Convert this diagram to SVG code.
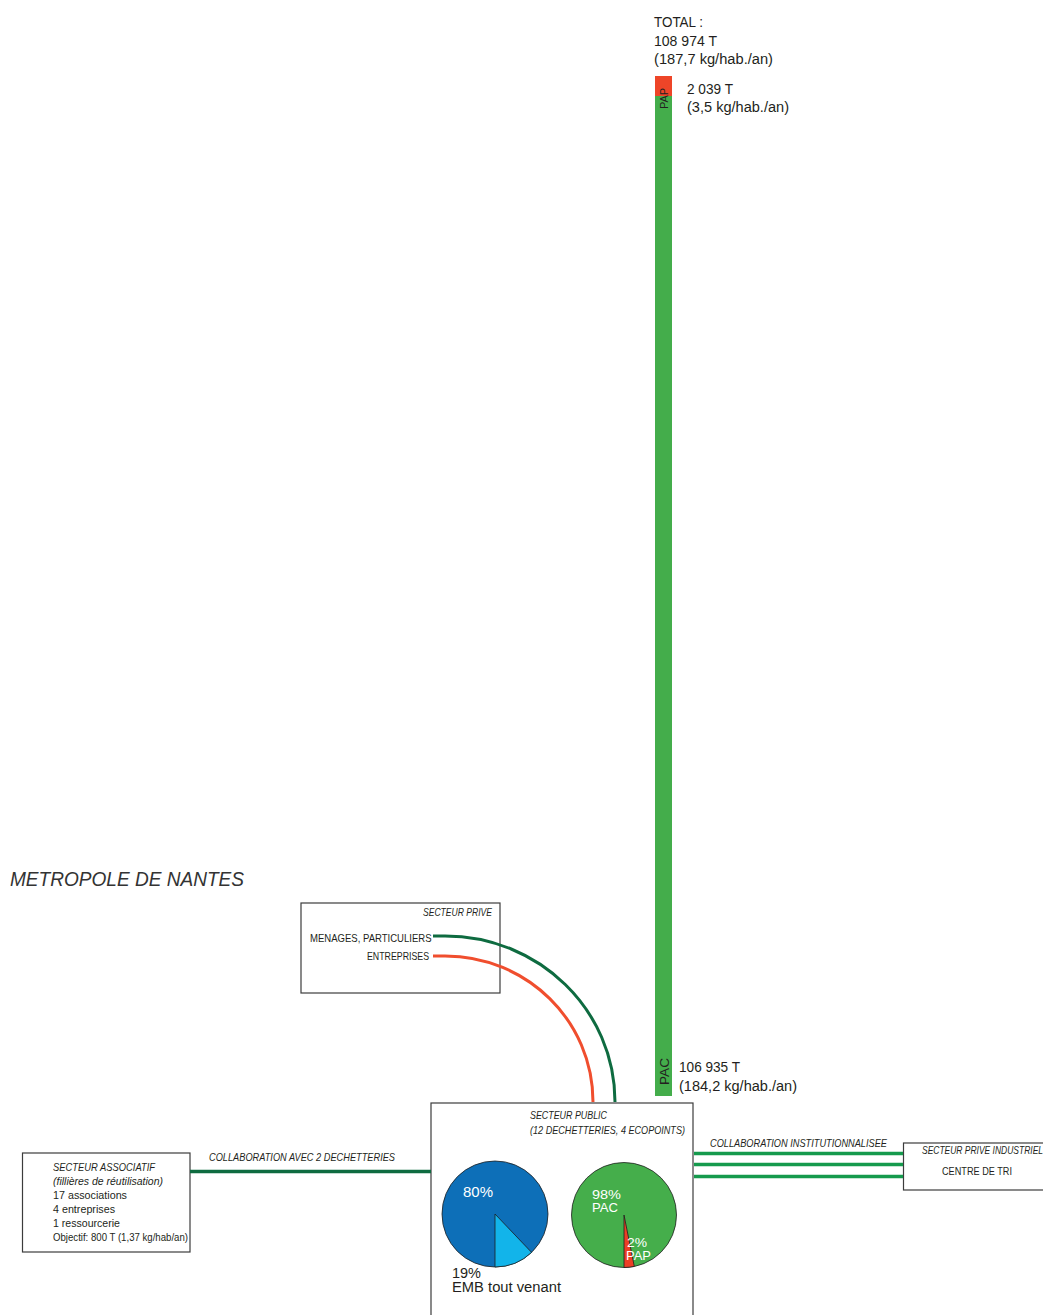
<svg xmlns="http://www.w3.org/2000/svg" width="1043" height="1315" viewBox="0 0 1043 1315">
  <style>
    text { font-family: "Liberation Sans", Arial, sans-serif; fill: #231f20; }
    .big { font-size: 14px; }
    .small { font-size: 10.5px; }
    .it { font-style: italic; }
    .white { fill: #ffffff; }
    .box { fill: #ffffff; stroke: #3c3c3c; stroke-width: 1.2; }
    .pie-edge { stroke: #1e1e1e; stroke-width: 0.8; }
  </style>

  <rect width="1043" height="1315" fill="#ffffff"/>

  <!-- tonnage bar -->
  <g id="bar">
    <rect x="655" y="76" width="17" height="20" fill="#ee4528"/>
    <rect x="655" y="96" width="17" height="1000" fill="#44ad4b"/>
    <text class="big" x="654" y="27" textLength="49" lengthAdjust="spacingAndGlyphs">TOTAL :</text>
    <text class="big" x="654" y="46" textLength="63" lengthAdjust="spacingAndGlyphs">108 974 T</text>
    <text class="big" x="654" y="64" textLength="119" lengthAdjust="spacingAndGlyphs">(187,7 kg/hab./an)</text>
    <text class="big" x="687" y="94" textLength="46" lengthAdjust="spacingAndGlyphs">2 039 T</text>
    <text class="big" x="687" y="112" textLength="102" lengthAdjust="spacingAndGlyphs">(3,5 kg/hab./an)</text>
    <text x="0" y="0" font-size="11.5" text-anchor="middle" transform="translate(667.5,98.5) rotate(-90)" textLength="21" lengthAdjust="spacingAndGlyphs">PAP</text>
    <text x="0" y="0" font-size="13.5" text-anchor="middle" transform="translate(668.5,1071.5) rotate(-90)" textLength="27" lengthAdjust="spacingAndGlyphs">PAC</text>
    <text class="big" x="679" y="1072" textLength="61" lengthAdjust="spacingAndGlyphs">106 935 T</text>
    <text class="big" x="679" y="1091" textLength="118" lengthAdjust="spacingAndGlyphs">(184,2 kg/hab./an)</text>
  </g>

  <text id="title" x="10" y="886" font-size="20" font-style="italic" style="fill:#333333" textLength="234" lengthAdjust="spacingAndGlyphs">METROPOLE DE NANTES</text>

  <!-- private sector -->
  <g id="secteur-prive">
    <rect class="box" x="301" y="903" width="199" height="90"/>
    <text class="small it" x="423" y="915.5" textLength="69" lengthAdjust="spacingAndGlyphs">SECTEUR PRIVE</text>
    <text class="small" x="310" y="941.5" textLength="121.5" lengthAdjust="spacingAndGlyphs">MENAGES, PARTICULIERS</text>
    <text class="small" x="367" y="960" textLength="62" lengthAdjust="spacingAndGlyphs">ENTREPRISES</text>
  </g>

  <!-- public sector -->
  <g id="secteur-public">
    <rect class="box" x="431" y="1103" width="262" height="230"/>
    <text class="small it" x="530" y="1119" textLength="77" lengthAdjust="spacingAndGlyphs">SECTEUR PUBLIC</text>
    <text class="small it" x="530" y="1133.5" textLength="155" lengthAdjust="spacingAndGlyphs">(12 DECHETTERIES, 4 ECOPOINTS)</text>

    <g id="pie-emb">
      <circle cx="495" cy="1214" r="53" fill="#0d6fb8" class="pie-edge"/>
      <path d="M495,1214 L531.6,1252.4 A53,53 0 0 1 495,1267 Z" fill="#12b4ea" class="pie-edge"/>
      <text class="big white" x="463" y="1197" font-size="15" textLength="30" lengthAdjust="spacingAndGlyphs">80%</text>
      <text class="big" x="452" y="1278" textLength="29" lengthAdjust="spacingAndGlyphs">19%</text>
      <text class="big" x="452" y="1292" textLength="109" lengthAdjust="spacingAndGlyphs">EMB tout venant</text>
    </g>

    <g id="pie-pac">
      <circle cx="624" cy="1215" r="52.5" fill="#45ae4b" class="pie-edge"/>
      <path d="M624,1215 L634.3,1266.4 A52.5,52.5 0 0 1 624,1267.5 Z" fill="#ec3f25" class="pie-edge"/>
      <text class="white" x="592" y="1198.5" font-size="13" textLength="29" lengthAdjust="spacingAndGlyphs">98%</text>
      <text class="white" x="592" y="1212" font-size="13" textLength="26" lengthAdjust="spacingAndGlyphs">PAC</text>
      <text class="white" x="627" y="1246.5" font-size="13" textLength="20" lengthAdjust="spacingAndGlyphs">2%</text>
      <text class="white" x="626" y="1259.5" font-size="13" textLength="25" lengthAdjust="spacingAndGlyphs">PAP</text>
    </g>
  </g>

  <!-- associative sector -->
  <g id="secteur-associatif">
    <rect class="box" x="22.5" y="1153" width="167.5" height="99"/>
    <text class="small it" x="53" y="1171" textLength="102" lengthAdjust="spacingAndGlyphs">SECTEUR ASSOCIATIF</text>
    <text class="small it" x="53" y="1185" textLength="110" lengthAdjust="spacingAndGlyphs">(fillières de réutilisation)</text>
    <text class="small" x="53" y="1199" textLength="74" lengthAdjust="spacingAndGlyphs">17 associations</text>
    <text class="small" x="53" y="1213" textLength="62" lengthAdjust="spacingAndGlyphs">4 entreprises</text>
    <text class="small" x="53" y="1227" textLength="67" lengthAdjust="spacingAndGlyphs">1 ressourcerie</text>
    <text class="small" x="53" y="1241" textLength="135" lengthAdjust="spacingAndGlyphs">Objectif: 800 T (1,37 kg/hab/an)</text>
  </g>

  <!-- industrial private sector -->
  <g id="secteur-prive-industriel">
    <rect class="box" x="903.5" y="1143" width="160" height="47"/>
    <text class="small it" x="922" y="1154" textLength="121" lengthAdjust="spacingAndGlyphs">SECTEUR PRIVE INDUSTRIEL</text>
    <text class="small" x="942" y="1175" textLength="70" lengthAdjust="spacingAndGlyphs">CENTRE DE TRI</text>
  </g>

  <!-- connectors, drawn over the boxes they leave from -->
  <g id="connectors" fill="none" stroke-width="3">
    <path d="M433,936 H445 C539,936 615,1010 615,1102" stroke="#0e6b40"/>
    <path d="M433,956 H445 C527,956 593,1021 593,1102" stroke="#f04e2e"/>
    <line x1="190" y1="1171.5" x2="431" y2="1171.5" stroke="#0e6b40" stroke-width="3.5"/>
    <line x1="694" y1="1153.5" x2="903" y2="1153.5" stroke="#159a4d" stroke-width="3.5"/>
    <line x1="694" y1="1164.5" x2="903" y2="1164.5" stroke="#159a4d" stroke-width="3.5"/>
    <line x1="694" y1="1176.5" x2="903" y2="1176.5" stroke="#159a4d" stroke-width="3.5"/>
    <text class="small it" x="209" y="1161" textLength="186" lengthAdjust="spacingAndGlyphs" stroke="none">COLLABORATION AVEC 2 DECHETTERIES</text>
    <text class="small it" x="710" y="1147" textLength="177" lengthAdjust="spacingAndGlyphs" stroke="none">COLLABORATION INSTITUTIONNALISEE</text>
  </g>
</svg>
